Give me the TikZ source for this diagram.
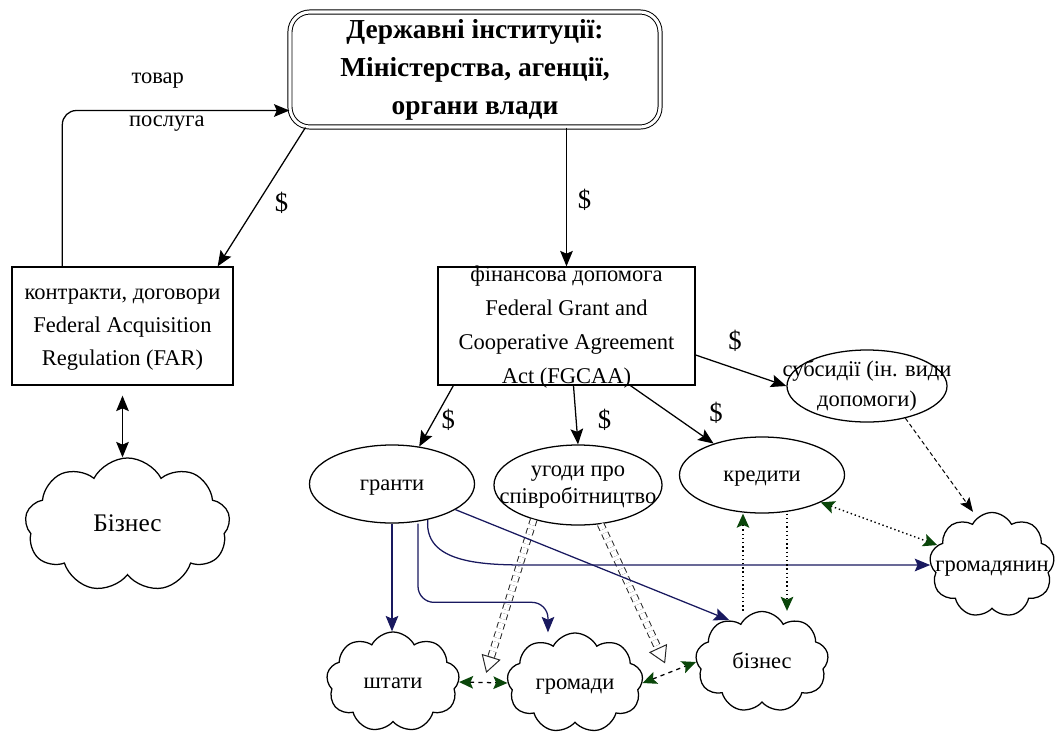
\documentclass[tikz,border=0pt]{standalone}
\usepackage{fontspec}
\setmainfont{Liberation Serif}
\usetikzlibrary{positioning,arrows.meta,shapes.geometric,shapes.symbols}
\definecolor{navyline}{RGB}{25,25,95}
\definecolor{tipgreen}{RGB}{10,70,10}
\newcommand{\ovr}[1]{\makebox[0pt]{\smash{\raisebox{-0.25em}{\begin{tabular}{@{}c@{}}#1\end{tabular}}}}}

\begin{document}
\begin{tikzpicture}[
    x=0.025cm, y=-0.025cm,
    font=\fontsize{16}{23.5}\selectfont,
    box/.style={draw, line width=0.9pt, inner sep=0pt},
    govbox/.style={draw, double, double distance=2.2pt, line width=0.7pt,
      rounded corners=0.5cm, inner sep=0pt,
      font=\fontsize{19.5}{27}\selectfont\bfseries},
    oval/.style={ellipse, draw, line width=0.9pt, inner sep=0pt},
    puff/.style={cloud, cloud puffs=9, cloud puff arc=125, cloud ignores aspect,
      draw, line width=0.9pt, inner sep=0pt},
    lbl/.style={inner sep=0pt, font=\fontsize{19}{19}\selectfont},
    arr/.style={-{Stealth[length=11pt, width=9pt, inset=2pt]}, line width=0.9pt},
    dblarr/.style={{Stealth[length=11pt, width=9pt, inset=2pt]}-{Stealth[length=11pt, width=9pt, inset=2pt]}, line width=0.9pt},
    narr/.style={-{Stealth[length=11pt, width=9pt, inset=2pt]}, line width=0.9pt, draw=navyline},
    gdbl/.style={dashed, line width=0.9pt,
      {Stealth[length=10pt, width=9pt, inset=2pt, color=tipgreen]}-{Stealth[length=10pt, width=9pt, inset=2pt, color=tipgreen]}},
    hollow/.style={dash pattern=on 4pt off 3pt, draw=black!85, double, double distance=4pt, line width=0.7pt,
      -{Triangle[open, length=12pt, width=14pt]}, shorten >=0.25cm},
    gdot/.style={dotted, line width=1pt, -{Stealth[length=10pt, width=9pt, inset=2pt, color=tipgreen]}},
    gdotdbl/.style={dotted, line width=1pt,
      {Stealth[length=10pt, width=9pt, inset=2pt, color=tipgreen]}-{Stealth[length=10pt, width=9pt, inset=2pt, color=tipgreen]}},
    fdash/.style={dash pattern=on 3pt off 2pt, line width=0.7pt, -{Stealth[length=10pt, width=8pt, inset=2pt]}},
  ]
  \useasboundingbox (0,0) rectangle (1060,732);

  \node[govbox, minimum width=9.25cm, minimum height=2.875cm] (gov) at (475,69.5)
    {\ovr{Державні інституції:\\Міністерства, агенції,\\органи влади}};
  \node[box, minimum width=5.525cm, minimum height=2.95cm] (contracts) at (122.5,326)
    {\ovr{контракти, договори\\Federal Acquisition\\Regulation (FAR)}};
  \node[box, minimum width=6.425cm, minimum height=2.95cm, font=\fontsize{16}{24.2}\selectfont] (finaid) at (566.5,326)
    {\ovr{фінансова допомога\\Federal Grant and\\Cooperative Agreement\\Act (FGCAA)}};

  \node[oval, minimum width=4.125cm, minimum height=1.95cm] (grants) at (392,484) {\ovr{гранти}};
  \node[oval, minimum width=4.2cm, minimum height=2cm, font=\fontsize{16}{19.5}\selectfont] (coop) at (578,485)
    {\ovr{угоди про\\співробітництво}};
  \node[oval, minimum width=4.125cm, minimum height=1.9cm] (credits) at (762,475) {\ovr{кредити}};
  \node[oval, minimum width=4cm, minimum height=1.8cm, font=\fontsize{16}{21}\selectfont] (subsidy) at (867,386)
    {\ovr{субсидії (ін. види\\допомоги)}};

  \node[puff, minimum width=5.125cm, minimum height=3.35cm, font=\fontsize{18}{22}\selectfont] (bizL) at (127.5,525) {\ovr{Бізнес}};
  \node[puff, minimum width=3.125cm, minimum height=2.625cm] (citizen) at (992,565) {\ovr{громадянин}};
  \node[puff, minimum width=3.325cm, minimum height=2.525cm] (biz) at (762,662) {\ovr{бізнес}};
  \node[puff, minimum width=3.4cm, minimum height=2.5cm] (comm) at (575,683) {\ovr{громади}};
  \node[puff, minimum width=3.325cm, minimum height=2.5cm] (states) at (393,682) {\ovr{штати}};

  \draw[arr, rounded corners=0.35cm] ([xshift=1.275cm]contracts.north west) |- ([yshift=0.425cm]gov.south west)
    node[pos=0.71, yshift=0.75cm] {товар} node[pos=0.73, yshift=-0.33cm] {послуга};
  \draw[arr] ([xshift=0.4cm]gov.south west) -- node[lbl, xshift=0.5cm, yshift=-0.15cm] {\$} ([xshift=-0.4cm]contracts.north east);
  \draw[arr] (gov.south -| finaid.north) -- node[lbl, xshift=0.45cm, yshift=-0.08cm] {\$} (finaid.north);
  \draw[dblarr, shorten <=0.25cm] (contracts.south) -- (contracts.south |- bizL.north);

  \draw[arr] ([xshift=0.4cm]finaid.south west) -- node[lbl, xshift=0.3cm, yshift=-0.1cm] {\$} (grants.54);
  \draw[arr] ([xshift=0.175cm]finaid.south) -- node[lbl, xshift=0.72cm, yshift=-0.12cm] {\$} (coop.north);
  \draw[arr] ([xshift=1.6cm]finaid.south) -- node[lbl, xshift=1.1cm, yshift=0.05cm] {\$} (credits.147);
  \draw[arr] ([yshift=-0.725cm]finaid.east) -- node[lbl, xshift=-0.15cm, yshift=0.75cm] {\$} (subsidy.west);

  \draw[gdbl] (states.east) -- coordinate[pos=0.5] (sc) (comm.west);
  \draw[gdbl] (comm.east) -- coordinate[pos=0.5] (cb) (biz.west);
  \draw[hollow] (coop.218) -- (sc);
  \draw[hollow] (coop.300) -- (cb);

  \draw[narr] (grants.south) -- (grants.south |- states.north);
  \draw[narr, rounded corners=0.4cm] ([xshift=0.65cm]grants.south) |- ([xshift=-0.675cm, yshift=0.75cm]comm.north) -- ([xshift=-0.675cm]comm.north);
  \draw[narr] (grants.-45) to[out=-95, in=180] ([xshift=-9.75cm]citizen.west) -- (citizen.west);
  \draw[narr] (grants.-22) -- (biz.128);

  \draw[gdotdbl] (credits.-25) -- (citizen.160);
  \draw[gdot] ([xshift=-0.475cm]credits.south |- biz.north) -- ([xshift=-0.475cm]credits.south);
  \draw[gdot] ([xshift=0.625cm]credits.south) -- ([xshift=0.625cm]credits.south |- biz.north);
  \draw[fdash] (subsidy.-40) -- ([xshift=-0.475cm]citizen.north);
\end{tikzpicture}
\end{document}
